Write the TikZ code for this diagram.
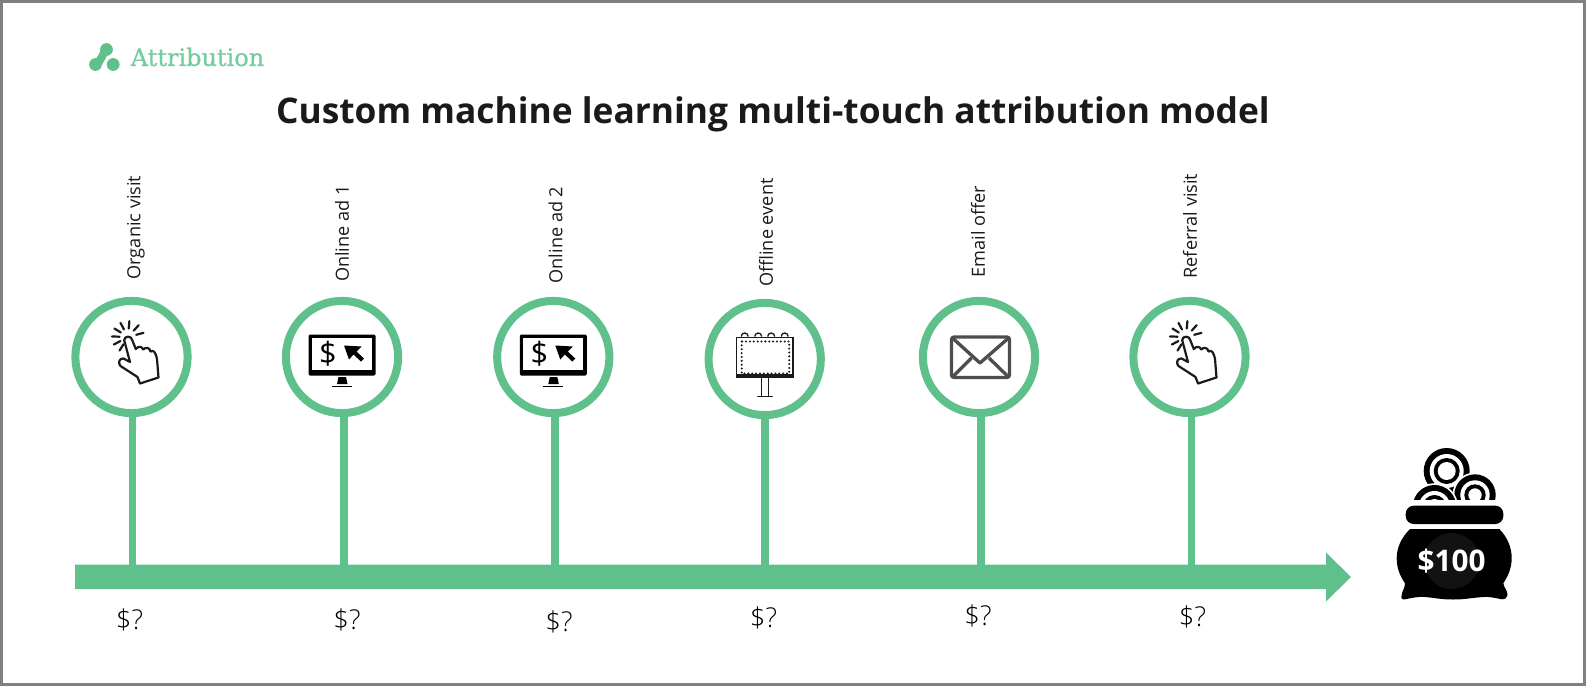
\documentclass[tikz,border=0pt]{standalone}
\usepackage{fontspec}
\setmainfont{Open Sans}
\newfontfamily\logofont[FakeBold=0.6]{DejaVu Serif}
\newfontfamily\lightfont{Open Sans Light}
\definecolor{grn}{HTML}{60C08C}
\definecolor{logogrn}{HTML}{72CC9C}
\definecolor{framegray}{HTML}{808080}
\definecolor{ink}{HTML}{1A1A1A}
\definecolor{envgray}{HTML}{4D4D4D}
\tikzset{
  ring/.style={circle,draw=grn,line width=6pt,fill=white,minimum size=84.2pt,inner sep=0pt},
  stemline/.style={draw=grn,line width=5.8pt},
  vlabel/.style={rotate=90,font=\fontsize{13.6}{15}\selectfont,text=ink,inner sep=0pt},
  price/.style={font=\lightfont\fontsize{20.5}{24}\selectfont,text=black,inner sep=0pt},
  handicon/.pic={
    \draw[ink,line width=1.65pt,line join=round,fill=white]
      (-7.3,-16.7) .. controls (-7.3,-21.5) and (0,-21.5) .. (0.7,-17)
      -- (4.3,-8) .. controls (7,-11) and (10,-11) .. (11.7,-7.5)
      .. controls (14,-10) and (18,-10) .. (19,-5.5)
      .. controls (22,-7.5) and (24,-5) .. (25.5,2)
      -- (27,20.5) -- (8.5,26.5) -- (6,20)
      -- (-11,9) .. controls (-14,6) and (-12,1) .. (-8,1.5)
      -- (-1.5,5) -- cycle;
    \foreach \a/\r in {-15/8.5,-48/8.5,-85/8.5,-118/8.5,-148/8.5,-178/8.5,-208/8.5,-238/8.5}
      \draw[ink,line width=1.65pt,line cap=round] (-3.5,-20) ++(\a:\r) -- ++(\a:7.5);
  },
  monitoricon/.pic={
    \fill[black,rounded corners=1pt] (-33.5,-22.5) rectangle (33.5,18.5);
    \fill[white] (-30,-19) rectangle (30,12.5);
    \node[font=\fontsize{23}{24}\selectfont,text=black,inner sep=0pt] (-dollar) at (-14,-3) {\$};
    \fill[black] (2,-11.5) -- (19.5,-10.5) -- (14.5,-5.5) -- (22,1.5) -- (19,4.5) -- (11.5,-2.5) -- (7,2.5) -- cycle;
    \fill[black] (-3.5,20) -- (4,20) -- (5.5,27) -- (-5,27) -- cycle;
    \draw[black,line width=1.2pt] (-10,29.5) -- (10,29.5);
  },
  boardicon/.pic={
    \draw[ink,line width=1.1pt] (-28,-21.5) rectangle (28.5,18.5);
    \draw[ink,line width=1.6pt] (-28,16.5) -- (28.5,16.5);
    \draw[ink,line width=1.7pt,dash pattern=on 0pt off 2.9pt,line cap=round] (-23,-17.5) rectangle (24.5,14.5);
    \foreach \x in {-20,-6.5,6.5,20}
      \draw[ink,line width=1pt] (\x-3.5,-22.5) arc (180:360:3.5 and 3.5);
    \draw[ink,line width=1pt] (-3.5,19) -- (-3.5,37) (4,19) -- (4,37);
    \draw[ink,line width=1.3pt,line cap=round] (-7,37.5) -- (7.5,37.5);
  },
  envicon/.pic={
    \draw[envgray,line width=2.5pt,rounded corners=2pt] (-27.5,-20) rectangle (30.5,20.5);
    \draw[envgray,line width=2.5pt,line join=round] (-26,-18.5) -- (1,6) -- (29,-18.5);
    \draw[envgray,line width=2.5pt] (-26,19.5) -- (-7.5,1) (29,19.5) -- (10,1);
  },
}
\begin{document}
\begin{tikzpicture}[x=0.75pt,y=-0.75pt]
\path[use as bounding box] (0,0) rectangle (1586,686);
\fill[white] (0,0) rectangle (1586,686);
\draw[framegray,line width=2.25pt] (1.5,1.5) rectangle (1584.5,684.5);

% logo
\draw[grn,line width=6pt,line cap=round] (96,64) .. controls (101,62) and (102,54) .. (106.5,49.5);
\fill[grn] (95.5,64.5) circle (4.8pt);
\fill[grn] (106.5,49.5) circle (4.8pt);
\fill[grn] (113.2,64.5) circle (4.8pt);
\node[anchor=west,text=logogrn,inner sep=0pt,font=\logofont\fontsize{18}{20}\selectfont] (logo) at (130.5,57) {Attribution};

% title
\node[font=\fontsize{26.5}{30}\selectfont\bfseries,text=ink,inner sep=0pt] (title) at (773,114) {Custom machine learning multi-touch attribution model};

% main arrow
\fill[grn] (75,564.5) -- (1326,564.5) -- (1326,552.5) -- (1351,577) -- (1326,601.5) -- (1326,589) -- (75,589) -- cycle;
\coordinate (b1) at (132.5,570);
\coordinate (b2) at (344,570);
\coordinate (b3) at (555.3,570);
\coordinate (b4) at (764.7,570);
\coordinate (b5) at (981,570);
\coordinate (b6) at (1191.5,570);

% rings
\node[ring] (c1) at (131.5,357) {};
\node[ring] (c2) at (342,357) {};
\node[ring] (c3) at (553.3,357) {};
\node[ring] (c4) at (764.7,359) {};
\node[ring] (c5) at (979,357) {};
\node[ring] (c6) at (1189.5,357) {};
\foreach \i in {1,...,6}
  \draw[stemline] (c\i.south -| b\i) ++(0,-3) -- (b\i);

% icons
\pic at (c1) {handicon};
\pic (m1) at (c2) {monitoricon};
\pic (m2) at (c3) {monitoricon};
\pic at (c4) {boardicon};
\pic at (c5) {envicon};
\pic at (c6) {handicon};

% labels
\node[vlabel] (l1) at (136,227.5) {Organic visit};
\node[vlabel] (l2) at (342,233.5) {Online ad 1};
\node[vlabel] (l3) at (555.5,235) {Online ad 2};
\node[vlabel] (l4) at (766,232.5) {Offline event};
\node[vlabel] (l5) at (978,231.5) {Email offer};
\node[vlabel] (l6) at (1190,226) {Referral visit};

% prices
\node[price] (p1) at (129.5,620) {\$?};
\node[price] (p2) at (347,619.5) {\$?};
\node[price] (p3) at (559,622) {\$?};
\node[price] (p4) at (763.5,618) {\$?};
\node[price] (p5) at (978,615.5) {\$?};
\node[price] (p6) at (1192.5,616.5) {\$?};

% pot of coins
\begin{scope}
  \clip (1380,440) rectangle (1520,499.5);
  \foreach \cx/\cy/\ra in {1446.7/471/23,1475/495/20.7,1434.5/506.7/21.7}{
    \fill[white] (\cx,\cy) circle ({(\ra+1.8)*0.75pt});
    \fill[black] (\cx,\cy) circle ({\ra*0.75pt});
    \fill[white] (\cx,\cy) circle ({(\ra-6)*0.75pt});
    \fill[black] (\cx,\cy) circle ({(\ra-10)*0.75pt});
    \fill[white] (\cx,\cy) circle ({(\ra-14)*0.75pt});
  }
\end{scope}
\fill[black,rounded corners=6pt] (1405.7,505.7) rectangle (1503.3,524);
\fill[black,line join=round] (1410,529) -- (1499.3,529)
  .. controls (1508,538) and (1511.7,548) .. (1511.7,558.3)
  .. controls (1511.7,568) and (1508,576) .. (1503.3,583.3)
  .. controls (1504,588) and (1508,591) .. (1507.5,595)
  .. controls (1507,598) and (1505,600) .. (1502,599.3)
  .. controls (1495,598) and (1490,596.5) .. (1483,597)
  .. controls (1470,598) and (1465,599.5) .. (1453,599.5)
  .. controls (1441,599.5) and (1436,598) .. (1425,597)
  .. controls (1417,596.5) and (1412,598) .. (1405,599.3)
  .. controls (1402,600) and (1400.5,598) .. (1401.7,595)
  .. controls (1402,591) and (1405,588) .. (1405,583.3)
  .. controls (1400,576) and (1396.7,568) .. (1396.7,558.3)
  .. controls (1396.7,548) and (1401,538) .. (1410,529) -- cycle;
\fill[black!93!white] (1451.7,561) circle ({28*0.75pt});
\node[text=white,font=\fontsize{22.3}{24}\selectfont\bfseries,inner sep=0pt] (pot) at (1451.5,561) {\$100};
\end{tikzpicture}
\end{document}
